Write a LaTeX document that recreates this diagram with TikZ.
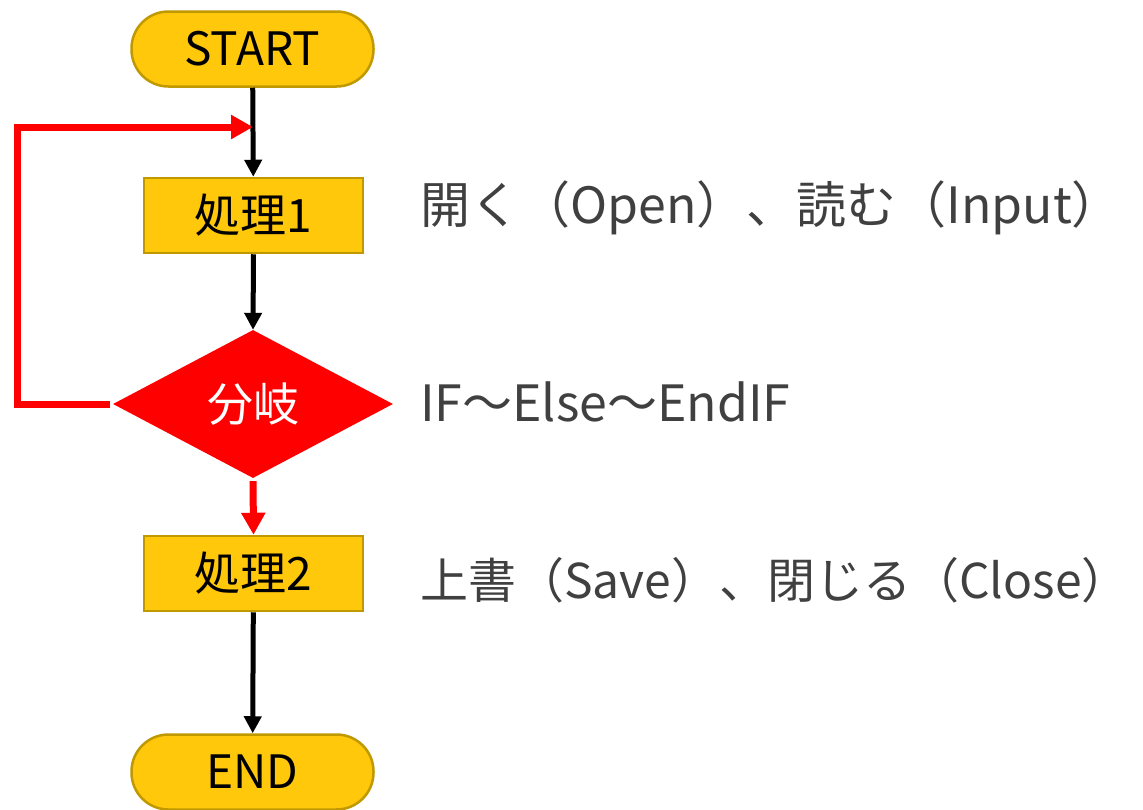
\documentclass[tikz,border=0pt]{standalone}
\usepackage{fontspec}
\setmainfont{Noto Sans CJK JP}
\usetikzlibrary{arrows.meta,shapes.geometric}
\definecolor{boxfill}{RGB}{255,200,10}
\definecolor{boxline}{RGB}{192,152,0}
\definecolor{flowred}{RGB}{255,0,0}
\definecolor{labelgray}{RGB}{64,64,64}
\begin{document}
\begin{tikzpicture}[x=1pt,y=-1pt,
  terminal/.style={draw=boxline, fill=boxfill, line width=2.5pt, rounded corners=37pt,
    minimum width=242pt, minimum height=75pt, inner sep=0pt, font=\fontsize{46}{52}\selectfont},
  procbox/.style={draw=boxline, fill=boxfill, line width=2.5pt,
    minimum width=219pt, minimum height=75pt, inner sep=0pt, font=\fontsize{46}{52}\selectfont},
  decision/.style={diamond, fill=flowred, minimum width=280pt, minimum height=148pt, aspect=1.89,
    inner sep=0pt, text=white, font=\fontsize{46}{52}\selectfont},
  flow/.style={draw=black, line width=5pt, -{Triangle[length=17pt,width=17pt]}},
  backflow/.style={draw=flowred, line width=7pt, -{Triangle[length=22pt,width=23pt]}},
  note/.style={anchor=west, text=labelgray, inner sep=0pt, font=\fontsize{50}{56}\selectfont}
]
\useasboundingbox (0,0) rectangle (1143,809);
\node[terminal] (start) at (252.5,49) {START};
\node[procbox] (p1) at (253.5,215.5) {処理1};
\node[decision] (dec) at (253,404) {分岐};
\node[procbox] (p2) at (253.5,573.5) {処理2};
\node[terminal] (end) at (252.5,772) {END};
\coordinate (loopin) at (253,127);
\coordinate (loopleft) at (17,127);
\draw[flow] (start) -- (p1);
\draw[flow] (p1.south) -- (dec.north);
\draw[backflow, shorten <=3pt] (dec.south) -- (p2.north);
\draw[flow] (p2) -- (end);
\draw[backflow, line join=miter, shorten <=3pt] (dec.west) -| (loopleft) -- (loopin);
\node[note] (n1) at (420,208) {開く（Open）、読む（Input）};
\node[note] (n2) at (420,402) {IF～Else～EndIF};
\node[note, font=\fontsize{48}{54}\selectfont] (n3) at (420,580) {上書（Save）、閉じる（Close）};
\end{tikzpicture}
\end{document}
